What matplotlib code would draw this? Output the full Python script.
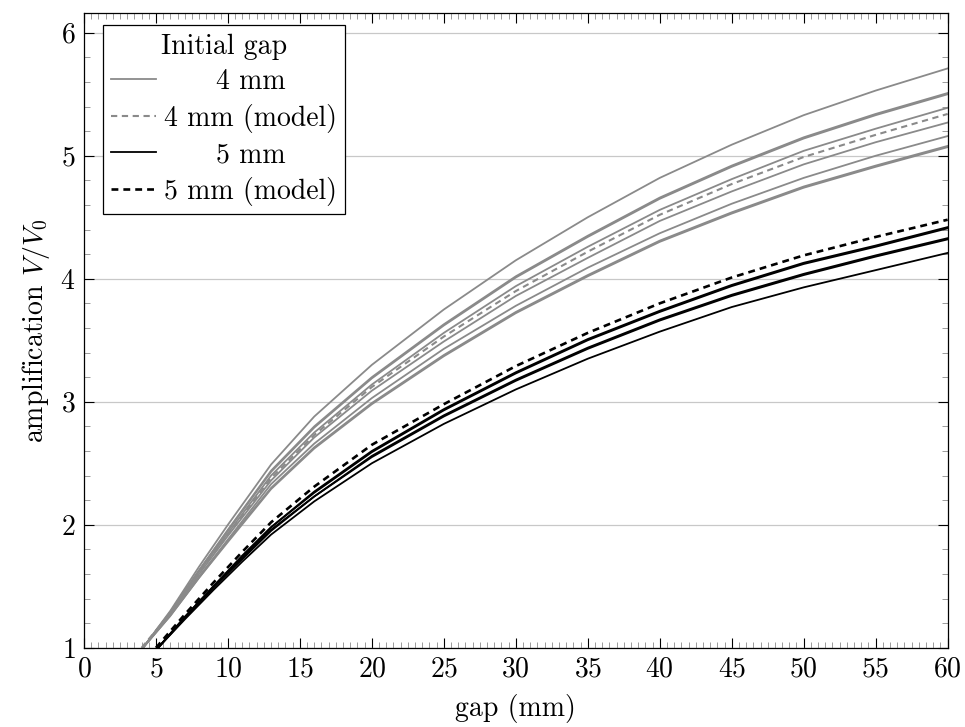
import matplotlib
matplotlib.use("Agg")
import matplotlib.pyplot as plt
from matplotlib.ticker import MultipleLocator

plt.rcParams['font.family'] = 'cmr10'
plt.rcParams['mathtext.fontset'] = 'cm'
plt.rcParams['axes.formatter.use_mathtext'] = True
plt.rcParams['font.size'] = 20

# initial gap 4 mm, measured (gray)
gap_4 = [4.1, 6, 8, 10, 13, 16, 20, 25, 30, 35, 40, 45, 50, 55, 60]
amp_4 = [
    [1, 1.30, 1.66, 2.00, 2.49, 2.88, 3.30, 3.75, 4.15, 4.50, 4.82, 5.09, 5.33, 5.53, 5.71],
    [1, 1.29, 1.63, 1.96, 2.44, 2.80, 3.20, 3.63, 4.02, 4.35, 4.66, 4.92, 5.15, 5.34, 5.51],
    [1, 1.29, 1.63, 1.95, 2.43, 2.79, 3.19, 3.62, 4.01, 4.34, 4.65, 4.91, 5.14, 5.33, 5.50],
    [1, 1.28, 1.62, 1.93, 2.40, 2.75, 3.14, 3.56, 3.94, 4.26, 4.56, 4.81, 5.04, 5.22, 5.39],
    [1, 1.27, 1.60, 1.91, 2.36, 2.71, 3.09, 3.49, 3.86, 4.17, 4.47, 4.71, 4.93, 5.11, 5.27],
    [1, 1.27, 1.58, 1.88, 2.33, 2.66, 3.03, 3.43, 3.78, 4.09, 4.37, 4.61, 4.82, 5.00, 5.16],
    [1, 1.26, 1.57, 1.87, 2.30, 2.63, 2.99, 3.38, 3.73, 4.03, 4.31, 4.54, 4.75, 4.92, 5.08],
    [1, 1.26, 1.57, 1.86, 2.29, 2.62, 2.98, 3.37, 3.72, 4.02, 4.30, 4.53, 4.74, 4.91, 5.07],
]
# initial gap 4 mm, model
gap_4m = [4, 6, 8, 10, 13, 16, 20, 25, 30, 35, 40, 45, 50, 55, 60]
amp_4m = [1, 1.28, 1.61, 1.92, 2.38, 2.73, 3.12, 3.53, 3.90, 4.22, 4.52, 4.77, 4.99, 5.17, 5.34]

# initial gap 5 mm, measured (black)
gap_5 = [5.15, 7, 9, 11, 13, 16, 20, 25, 30, 35, 40, 45, 50, 55, 60]
amp_5 = [
    [1, 1.25, 1.50, 1.75, 1.98, 2.27, 2.60, 2.94, 3.24, 3.51, 3.74, 3.95, 4.13, 4.27, 4.42],
    [1, 1.25, 1.50, 1.74, 1.98, 2.26, 2.59, 2.93, 3.23, 3.50, 3.73, 3.94, 4.12, 4.26, 4.41],
    [1, 1.24, 1.49, 1.73, 1.96, 2.23, 2.56, 2.89, 3.18, 3.44, 3.67, 3.87, 4.04, 4.19, 4.33],
    [1, 1.24, 1.49, 1.72, 1.95, 2.23, 2.55, 2.88, 3.17, 3.43, 3.66, 3.86, 4.03, 4.18, 4.32],
    [1, 1.23, 1.47, 1.70, 1.92, 2.19, 2.50, 2.82, 3.10, 3.35, 3.57, 3.77, 3.93, 4.07, 4.21],
]
# initial gap 5 mm, model
gap_5m = [5, 7, 9, 11, 13, 16, 20, 25, 30, 35, 40, 45, 50, 55, 60]
amp_5m = [1, 1.27, 1.53, 1.78, 2.02, 2.31, 2.65, 2.98, 3.29, 3.56, 3.80, 4.01, 4.19, 4.34, 4.48]

gray = '#8a8a8a'

fig = plt.figure(figsize=(9.65, 7.27), dpi=100)
ax = fig.add_axes([0.087, 0.109, 0.895, 0.873])

for i, y in enumerate(amp_4):
    ax.plot(gap_4, y, color=gray, lw=1.3, label='4 mm' if i == 0 else '_nolegend_')
ax.plot(gap_4m, amp_4m, color=gray, lw=1.5, dashes=(3.0, 2.2), label='4 mm (model)')
for i, y in enumerate(amp_5):
    ax.plot(gap_5, y, color='black', lw=1.3, label='5 mm' if i == 0 else '_nolegend_')
ax.plot(gap_5m, amp_5m, color='black', lw=1.9, dashes=(2.6, 1.9), label='5 mm (model)')

ax.set_xlim(0, 60)
ax.set_ylim(1, 6.16)
ax.xaxis.set_major_locator(MultipleLocator(5))
ax.xaxis.set_minor_locator(MultipleLocator(0.5))
ax.yaxis.set_major_locator(MultipleLocator(1))
ax.yaxis.set_minor_locator(MultipleLocator(0.2))
ax.tick_params(which='both', direction='in', top=True, right=True)
ax.tick_params(which='major', length=7, width=0.8, color='black', labelsize=20, pad=6)
ax.tick_params(which='minor', length=4.5, width=0.6, color='0.55')
ax.yaxis.grid(True, which='major', color='#c8c8c8', lw=0.9)
ax.set_axisbelow(True)
for s in ax.spines.values():
    s.set_linewidth(0.9)

ax.set_xlabel('gap (mm)', fontsize=20, labelpad=8)
ax.set_ylabel('amplification $V/V_0$', fontsize=20, labelpad=6)

leg = ax.legend(title='Initial gap', loc='upper left', bbox_to_anchor=(0.022, 0.981),
                borderaxespad=0, fancybox=False, framealpha=1, edgecolor='black',
                handlelength=1.6, handletextpad=0.3, labelspacing=0.32,
                borderpad=0.3, fontsize=20, title_fontsize=20)
leg.get_frame().set_linewidth(0.9)

# centre the short legend labels like the original
fig.canvas.draw()
texts = leg.get_texts()
widths = [t.get_window_extent().width for t in texts]
wmax = max(widths)
for t, w in zip(texts, widths):
    t.set_x((wmax - w) / 2)

fig.savefig('out.png', dpi=100)
